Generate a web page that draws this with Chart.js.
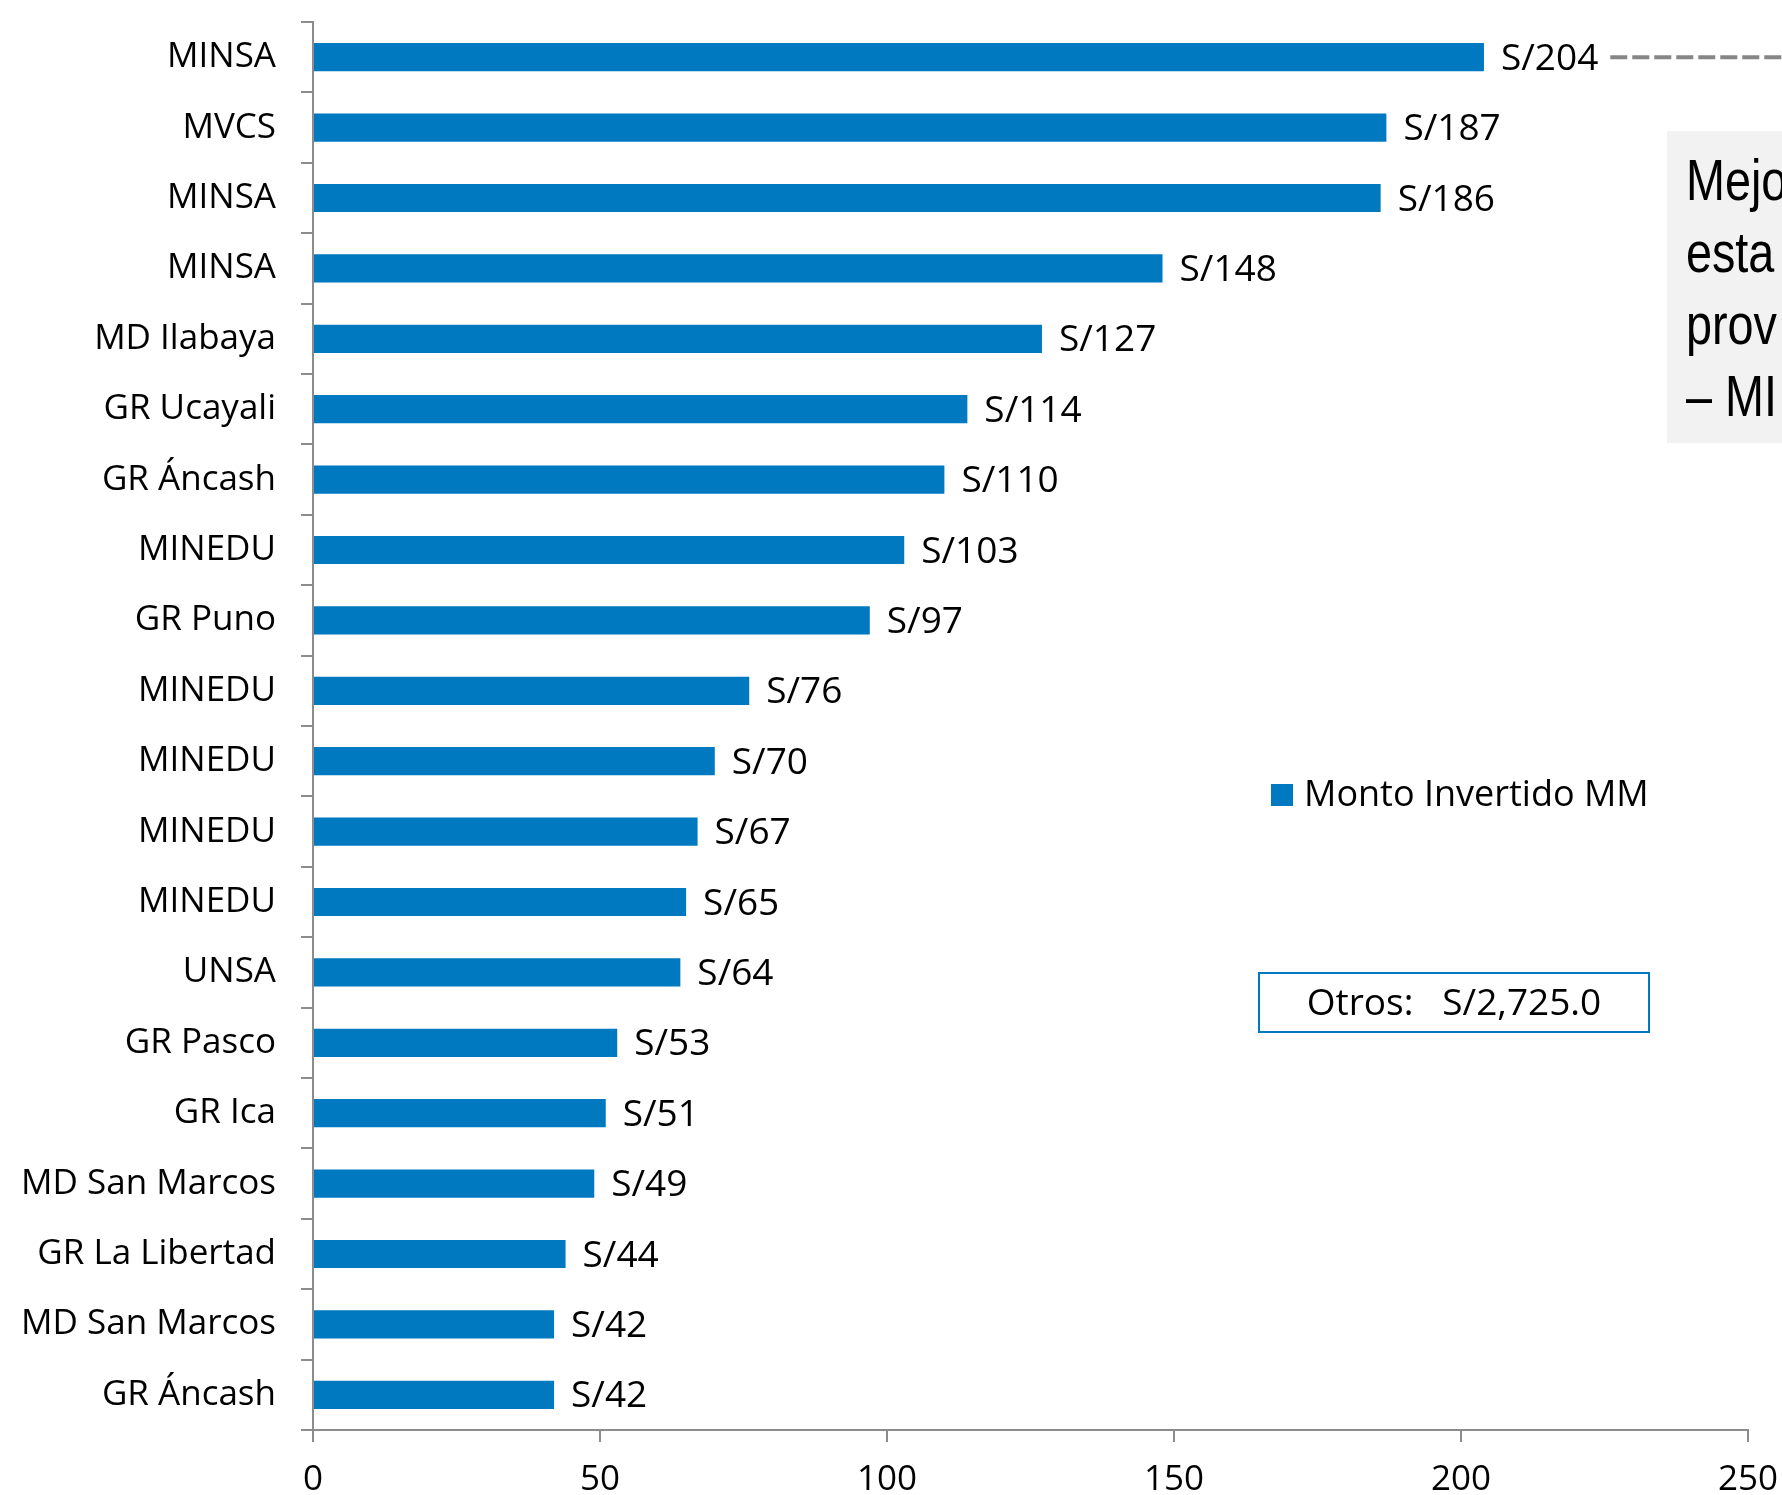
<!DOCTYPE html>
<html>
<head>
<meta charset="utf-8">
<script src="https://cdn.jsdelivr.net/npm/chart.js@4.4.1/dist/chart.umd.min.js"></script>
<style>
  html, body { margin: 0; padding: 0; background: #ffffff; }
  #wrap { width: 1782px; height: 1495px; position: relative; }
</style>
</head>
<body>
<div id="wrap"><canvas id="c" width="1782" height="1495"></canvas></div>
<script>
// ---- data ----
const categories = ["MINSA", "MVCS", "MINSA", "MINSA", "MD Ilabaya", "GR Ucayali", "GR Áncash", "MINEDU", "GR Puno", "MINEDU",
                    "MINEDU", "MINEDU", "MINEDU", "UNSA", "GR Pasco", "GR Ica", "MD San Marcos", "GR La Libertad", "MD San Marcos", "GR Áncash"];
const montoInvertido = [204, 187, 186, 148, 127, 114, 110, 103, 97, 76, 70, 67, 65, 64, 53, 51, 49, 44, 42, 42];
const seriesName = "Monto Invertido MM";
const xTicks = [0, 50, 100, 150, 200, 250];
const otrosLabel = "Otros:";
const otrosValue = 2725.0;
const noteLines = ["Mejo", "esta", "prov", "– MI"];

const BAR = "#0079C1";
const AXIS = "#8C8C8C";
const FONT = "'Open Sans', 'Noto Sans', sans-serif";
const FS = 35;

const fmtS = v => "S/" + Math.round(v);
const fmtOtros = v => "S/" + v.toLocaleString("en-US", {minimumFractionDigits: 1, maximumFractionDigits: 1});

const extras = {
  id: "extras",
  afterDatasetsDraw(chart) {
    const ctx = chart.ctx;
    const meta = chart.getDatasetMeta(0);
    ctx.save();
    ctx.font = "37px " + FONT;
    ctx.fillStyle = "#000";
    ctx.textAlign = "left";
    ctx.textBaseline = "middle";
    meta.data.forEach((bar, i) => {
      const txt = fmtS(chart.data.datasets[0].data[i]);
      ctx.fillText(txt, bar.x + 17, bar.y + 2);
      if (i === 0) {
        const w = ctx.measureText(txt).width;
        ctx.save();
        ctx.strokeStyle = "#868686";
        ctx.lineWidth = 4;
        ctx.setLineDash([17, 5]);
        ctx.beginPath();
        ctx.moveTo(bar.x + 17 + w + 12, bar.y);
        ctx.lineTo(chart.width + 10, bar.y);
        ctx.stroke();
        ctx.restore();
      }
    });
    ctx.restore();
  },
  afterDraw(chart) {
    const ctx = chart.ctx;
    ctx.save();
    // legend
    ctx.fillStyle = BAR;
    ctx.fillRect(1271, 784, 22, 22);
    ctx.fillStyle = "#000";
    ctx.font = "36px " + FONT;
    ctx.textAlign = "left";
    ctx.textBaseline = "middle";
    ctx.fillText(chart.data.datasets[0].label, 1304, 796);

    // Otros box
    ctx.fillStyle = "#fff";
    ctx.fillRect(1259, 973, 390, 59);
    ctx.strokeStyle = BAR;
    ctx.lineWidth = 2;
    ctx.strokeRect(1259, 973, 390, 59);
    ctx.fillStyle = "#000";
    ctx.font = "37px " + FONT;
    ctx.textAlign = "center";
    ctx.fillText(otrosLabel + "   " + fmtOtros(otrosValue), 1454, 1004);

    // grey note box (cut off at right edge)
    ctx.fillStyle = "#F2F2F2";
    ctx.fillRect(1667, 131, 140, 312);
    ctx.fillStyle = "#000";
    ctx.font = "57px 'Liberation Sans', Arial, sans-serif";
    ctx.textAlign = "left";
    ctx.textBaseline = "alphabetic";
    ctx.translate(1686, 0);
    ctx.scale(0.82, 1);
    noteLines.forEach((t, i) => ctx.fillText(t, 0, 200 + i * 72));
    ctx.restore();
  }
};

new Chart(document.getElementById("c"), {
  type: "bar",
  data: {
    labels: categories,
    datasets: [{
      label: seriesName,
      data: montoInvertido,
      backgroundColor: BAR,
      borderWidth: 0,
      barPercentage: 0.4,
      categoryPercentage: 1.0
    }]
  },
  options: {
    indexAxis: "y",
    responsive: false,
    devicePixelRatio: 1,
    animation: false,
    layout: { padding: { top: 22, right: 34, left: 0, bottom: 0 } },
    plugins: { legend: { display: false }, tooltip: { enabled: false } },
    scales: {
      x: {
        min: 0, max: 250,
        afterBuildTicks: s => { s.ticks = xTicks.map(v => ({ value: v })); },
        afterFit: s => { s.height = 65; s.paddingLeft = 0; s.paddingRight = 0; },
        grid: { drawOnChartArea: false, tickLength: 12, color: AXIS, lineWidth: 2 },
        border: { color: AXIS, width: 2 },
        ticks: { color: "#000", font: { family: FONT, size: FS }, padding: 17, maxRotation: 0 }
      },
      y: {
        afterFit: s => { s.width = 313; s.paddingTop = 0; s.paddingBottom = 0; },
        grid: { drawOnChartArea: false, tickLength: 12, color: AXIS, lineWidth: 2, offset: true },
        border: { color: AXIS, width: 2 },
        ticks: { color: "#000", font: { family: FONT, size: FS }, padding: 25, autoSkip: false }
      }
    }
  },
  plugins: [extras]
});
</script>
</body>
</html>
